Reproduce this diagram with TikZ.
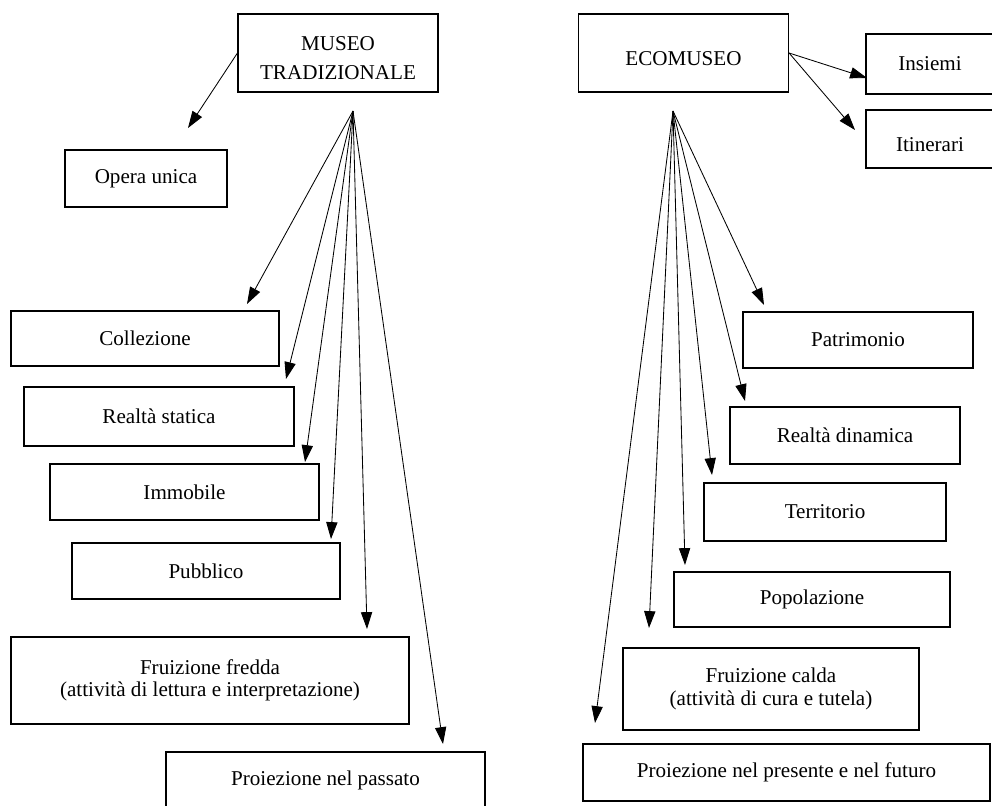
\documentclass[tikz,border=0pt]{standalone}
\usepackage{fontspec}
\setmainfont{Liberation Serif}
\usetikzlibrary{arrows.meta}

\begin{document}
\begin{tikzpicture}[x=0.025cm,y=-0.025cm,
	txt/.style={font=\fontsize{15}{16}\selectfont,align=center},
	box/.style 2 args={draw,line width=0.8pt,inner sep=0pt,txt,
		minimum width=#1*0.025cm,minimum height=#2*0.025cm},
	lowbox/.style n args={3}{box={#1}{#2},
		label={[txt,yshift=-3.8pt]center:#3}},
	arr/.style={-{Triangle[length=12pt,width=8pt]},line width=0.6pt}]
	\useasboundingbox (0,0) rectangle (992,805);
	
	% museo tradizionale
	\node[lowbox={200}{78}{MUSEO\\[4.5pt]TRADIZIONALE}] (mt) at (338,53) {};
	\node[box={162}{57}] (opera)   at (146,178.5) {Opera unica};
	\node[box={268}{55}] (coll)    at (145,338.5) {Collezione};
	\node[box={270}{59}] (stat)    at (159,416.5) {Realtà statica};
	\node[box={269}{56}] (immo)    at (184.5,492) {Immobile};
	\node[box={268}{56}] (pubb)    at (206,571)   {Pubblico};
	\node[box={398}{87}] (fredda)  at (210,680.5) {Fruizione fredda\\(attività di lettura e interpretazione)};
	\node[box={319}{56}] (passato) at (325.5,780) {Proiezione nel passato};
	
	% ecomuseo
	\node[lowbox={210}{78}{ECOMUSEO}] (eco) at (683.5,53) {};
	\node[box={128}{60}] (ins)   at (930,64)    {Insiemi};
	\node[lowbox={128}{58}{Itinerari}] (itin) at (930,139) {};
	\node[box={230}{56}] (patr)  at (858,340)   {Patrimonio};
	\node[box={230}{57}] (din)   at (845,435.5) {Realtà dinamica};
	\node[box={242}{58}] (terr)  at (825,512)   {Territorio};
	\node[box={276}{55}] (popo)  at (812,599.5) {Popolazione};
	\node[box={296}{82}] (calda) at (771,689)   {Fruizione calda\\(attività di cura e tutela)};
	\node[box={407}{57}] (pres)  at (786.5,772.5) {Proiezione nel presente e nel futuro};
	
	% fan origins
	\coordinate (fanL) at (353,111);
	\coordinate (fanR) at (673,111);
	
	% arrow tips (left)
	\coordinate (tOpera)   at (188,128);
	\coordinate (tColl)    at (247,304);
	\coordinate (tStat)    at (286,379);
	\coordinate (tImmo)    at (305,462);
	\coordinate (tPubb)    at (331,539);
	\coordinate (tFredda)  at (367,629);
	\coordinate (tPassato) at (443,744);
	
	% arrow tips (right)
	\coordinate (tIns)   at (867,78);
	\coordinate (tItin)  at (855,130);
	\coordinate (tPatr)  at (764,305);
	\coordinate (tDin)   at (745,401);
	\coordinate (tTerr)  at (712,475);
	\coordinate (tPopo)  at (685,565);
	\coordinate (tCalda) at (649,628);
	\coordinate (tPres)  at (595,723);
	
	% arrows
	\draw[arr] (mt.west) -- (tOpera);
	\foreach \t in {tColl,tStat,tImmo,tPubb,tFredda,tPassato}
		\draw[arr] (fanL) -- (\t);
	\draw[arr] (eco.east) -- (tIns);
	\draw[arr] (eco.east) -- (tItin);
	\foreach \t in {tPatr,tDin,tTerr,tPopo,tCalda,tPres}
		\draw[arr] (fanR) -- (\t);
\end{tikzpicture}
\end{document}
